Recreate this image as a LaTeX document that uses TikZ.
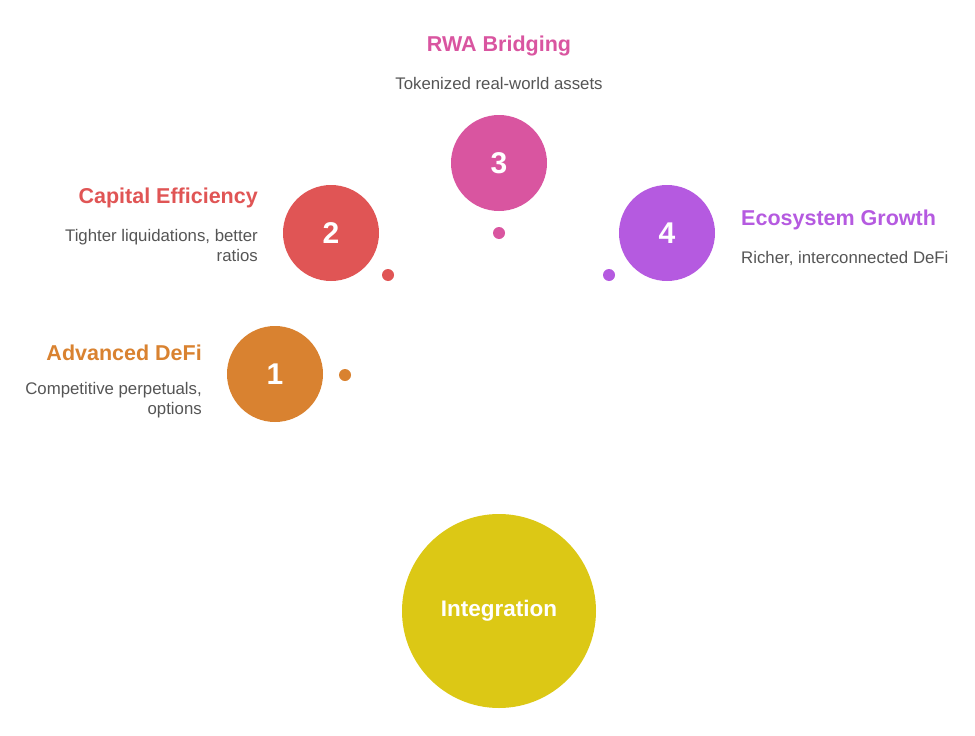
\documentclass[tikz,border=0pt]{standalone}
\usepackage{fontspec}
\setmainfont{Liberation Sans}
\definecolor{cOrange}{HTML}{D98230}
\definecolor{cRed}{HTML}{E05555}
\definecolor{cPink}{HTML}{D955A0}
\definecolor{cPurple}{HTML}{B55AE0}
\definecolor{cYellow}{HTML}{DCC815}
\definecolor{cGray}{HTML}{555555}
\begin{document}
\begin{tikzpicture}[x=1pt,y=-1pt,
  numc/.style={circle,fill=#1,minimum size=96pt,inner sep=0pt,text=white,font=\fontsize{30}{30}\selectfont\bfseries},
  dotc/.style={circle,fill=#1,minimum size=12pt,inner sep=0pt},
  ttl/.style={text=#1,font=\fontsize{21.5}{24}\selectfont\bfseries,inner sep=0pt},
  desc/.style={text=cGray,font=\fontsize{16.8}{20}\selectfont,inner sep=0pt}]
\useasboundingbox (0,0) rectangle (975,736);
% circles
\node[numc=cOrange] (c1) at (275,374) {1};
\node[numc=cRed] (c2) at (331,233) {2};
\node[numc=cPink] (c3) at (499,163) {3};
\node[numc=cPurple] (c4) at (667,233) {4};
\node[circle,fill=cYellow,minimum size=194pt,inner sep=0pt,text=white,font=\fontsize{22.5}{22.5}\selectfont\bfseries] (int) at (499,611) {Integration};
% dots
\node[dotc=cOrange] (d1) at (345,375) {};
\node[dotc=cRed] (d2) at (388,275) {};
\node[dotc=cPink] (d3) at (499,233) {};
\node[dotc=cPurple] (d4) at (609,275) {};
% labels
\node[ttl=cPink,anchor=center] (t3) at (499,46) {RWA Bridging};
\node[desc,anchor=center] (s3) at (499,83) {Tokenized real-world assets};
\node[ttl=cRed,anchor=east] (t2) at (258,198) {Capital Efficiency};
\node[desc,anchor=north east,align=right] (s2) at (258,229) {Tighter liquidations, better\\ratios};
\node[ttl=cOrange,anchor=east] (t1) at (202,353) {Advanced DeFi};
\node[desc,anchor=north east,align=right] (s1) at (202,382) {Competitive perpetuals,\\options};
\node[ttl=cPurple,anchor=west] (t4) at (741,220) {Ecosystem Growth};
\node[desc,anchor=west] (s4) at (741,258) {Richer, interconnected DeFi};
\end{tikzpicture}
\end{document}
